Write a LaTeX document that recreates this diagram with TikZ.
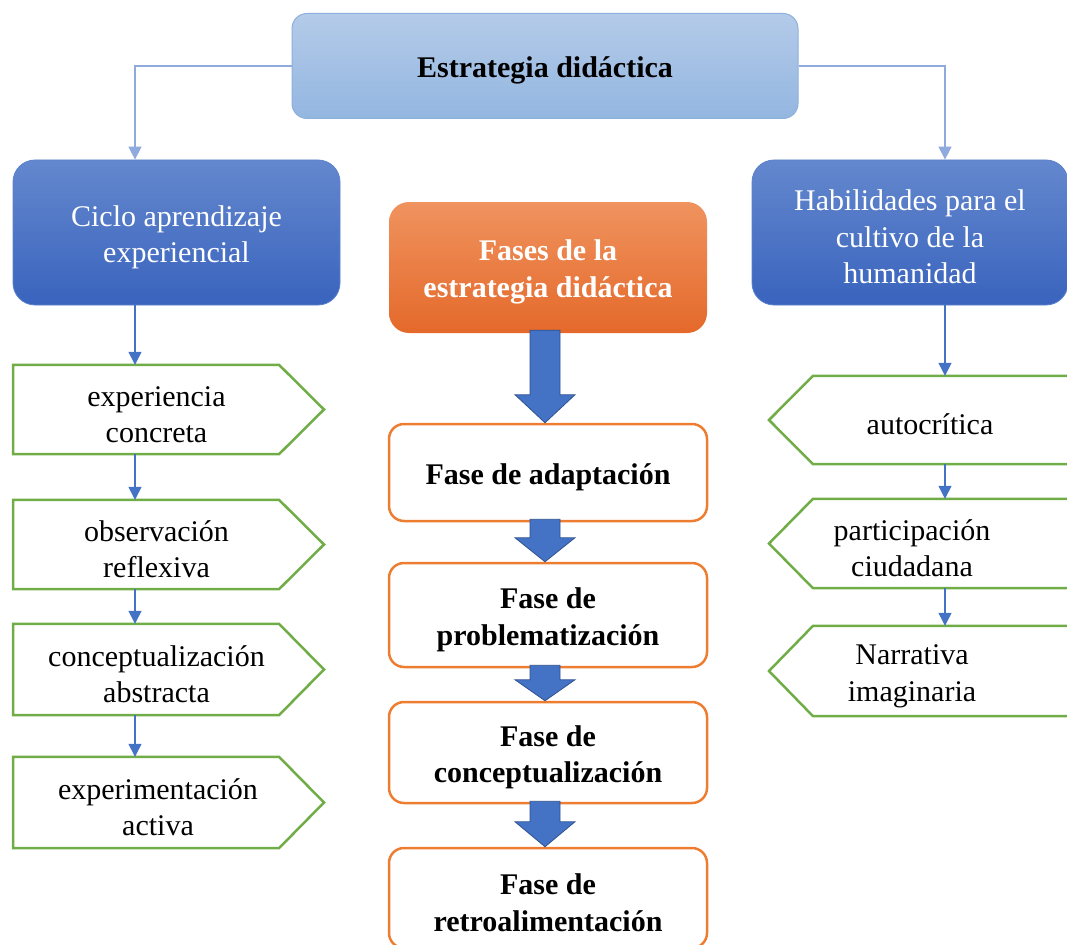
\documentclass[tikz,border=0pt]{standalone}
\usepackage{fontspec}
\setmainfont{Liberation Serif}
\usepackage{tikz}
\usetikzlibrary{arrows.meta,positioning,calc}
\definecolor{topfillA}{HTML}{B4CBE9}
\definecolor{topfillB}{HTML}{93B6E0}
\definecolor{topline}{HTML}{8EB0DC}
\definecolor{blueA}{HTML}{6488CE}
\definecolor{blueB}{HTML}{3963BD}
\definecolor{orangeA}{HTML}{F0935F}
\definecolor{orangeB}{HTML}{E4692A}
\definecolor{orangeline}{HTML}{ED7D31}
\definecolor{greenline}{HTML}{70AD47}
\definecolor{arrblue}{HTML}{4472C4}
\definecolor{arrdark}{HTML}{2F528F}
\definecolor{lightconn}{HTML}{8FAADC}
% strut that lowers the text a little inside its box
\newcommand{\lowr}{\rule{0pt}{30pt}}

\begin{document}
\begin{tikzpicture}[x=1pt, y=-1pt,
          every node/.style={font=\fontsize{30}{36.5}\selectfont, align=center, inner sep=2pt},
          head/.style={draw=topline, line width=1pt, rounded corners=15pt,
                       top color=topfillA, bottom color=topfillB,
                       minimum width=506pt, minimum height=105pt, font=\fontsize{30}{36.5}\selectfont\bfseries},
          branch/.style={draw=blueA!80!blueB, line width=0.8pt, rounded corners=22pt,
                       top color=blueA, bottom color=blueB, text=white,
                       minimum height=145pt},
          phases/.style={rounded corners=20pt, top color=orangeA, bottom color=orangeB,
                       text=white, minimum width=318pt, minimum height=131pt,
                       font=\fontsize{30}{36.5}\selectfont\bfseries},
          phase/.style={draw=orangeline, line width=2.5pt, rounded corners=15pt, fill=white,
                       minimum width=318pt, font=\fontsize{30}{36.5}\selectfont\bfseries},
          lstep/.style={minimum width=287pt},
          rstep/.style={minimum width=245pt},
          outline/.style={draw=greenline, line width=2.5pt, line join=miter},
          conn/.style={-{Triangle[length=13pt,width=13pt]}, line width=1.3pt, arrblue},
          topconn/.style={-{Triangle[length=13pt,width=13pt]}, line width=1.3pt, lightconn},
          bigarrow/.style={fill=arrblue, draw=arrdark, line width=0.8pt, line join=miter}
        ]
  \useasboundingbox (0,0) rectangle (1067,944);
  \clip (0,0) rectangle (1067,944);

  % column positions of the thin connectors and the pentagon edges
  \coordinate (lcol) at (135,0);
  \coordinate (rcol) at (945,0);
  \coordinate (lbody) at (279,0);
  \coordinate (ltip) at (324,0);
  \coordinate (rbody) at (813,0);
  \coordinate (rtip) at (769,0);
  \coordinate (rend) at (1090,0);

  % heading and the three branches
  \node[head] (strat) at (545,66) {\lowr Estrategia didáctica};
  \node[branch, minimum width=327pt] (cycle) at (176.5,232.5) {\lowr Ciclo aprendizaje\\experiencial};
  \node[branch, minimum width=316pt] (skills) at (910,232.5) {\lowr Habilidades para el\\cultivo de la\\humanidad};
  \node[phases] (fases) at (548,267.5) {\lowr Fases de la\\estrategia didáctica};

  % phases of the strategy
  \node[phase, minimum height=97pt]  (adapt) at (548,472.5) {\lowr Fase de adaptación};
  \node[phase, minimum height=104pt] (probl) at (548,615) {\lowr Fase de\\problematización};
  \node[phase, minimum height=101pt] (concp) at (548,752.5) {\lowr Fase de\\conceptualización};
  \node[phase, minimum height=100pt] (retro) at (548,898) {\lowr Fase de\\retroalimentación};

  % experiential learning cycle
  \node[lstep, minimum height=89pt] (exper) at (156.5,409.5) {\lowr experiencia\\concreta};
  \node[lstep, minimum height=89pt] (obser) at (156.5,544.5) {\lowr observación\\reflexiva};
  \node[lstep, minimum height=91pt] (abstr) at (156.5,669.5) {\lowr conceptualización\\abstracta};
  \node[lstep, minimum height=91pt] (activ) at (158,802.5) {\lowr experimentación\\activa};

  % skills for cultivating humanity
  \node[rstep, minimum height=88pt] (autoc) at (930,420) {\lowr autocrítica};
  \node[rstep, minimum height=89pt] (parti) at (912,543.5) {\lowr participación\\ciudadana};
  \node[rstep, minimum height=90pt] (narra) at (912,671) {\lowr Narrativa\\imaginaria};

  % pentagon outlines
  \foreach \n in {exper,obser,abstr,activ}
    \draw[outline] (\n.north west -| 13,0) -- (\n.north -| lbody) -- (\n.east -| ltip)
                   -- (\n.south -| lbody) -- (\n.south west -| 13,0) -- cycle;
  \foreach \n in {autoc,parti,narra}
    \draw[outline] (\n.north -| rend) -- (\n.north -| rbody) -- (\n.west -| rtip)
                   -- (\n.south -| rbody) -- (\n.south -| rend);

  % thin connectors
  \draw[topconn] (strat.west) -- (strat.west -| lcol) -- (cycle.north -| lcol);
  \draw[topconn] (strat.east) -- (strat.east -| rcol) -- (skills.north -| rcol);
  \draw[conn] (cycle.south -| lcol) -- (exper.north -| lcol);
  \draw[conn] (exper.south -| lcol) -- (obser.north -| lcol);
  \draw[conn] (obser.south -| lcol) -- (abstr.north -| lcol);
  \draw[conn] (abstr.south -| lcol) -- (activ.north -| lcol);
  \draw[conn] (skills.south -| rcol) -- (autoc.north -| rcol);
  \draw[conn] (autoc.south -| rcol) -- (parti.north -| rcol);
  \draw[conn] (parti.south -| rcol) -- (narra.north -| rcol);

  % block arrows between the phases
  \foreach \a/\b/\h in {fases/adapt/28, adapt/probl/24, probl/concp/21, concp/retro/25}
    \draw[bigarrow] ($(\a.south)+(-18,-3)$) -- ($(\a.south)+(12,-3)$)
      -- ($(\b.north)+(12,-\h)$) -- ($(\b.north)+(27,-\h)$) -- ($(\b.north)+(-3,0)$)
      -- ($(\b.north)+(-33,-\h)$) -- ($(\b.north)+(-18,-\h)$) -- cycle;
\end{tikzpicture}
\end{document}
